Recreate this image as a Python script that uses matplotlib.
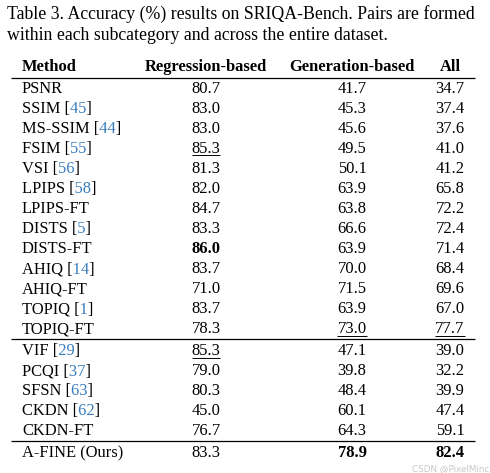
import matplotlib
matplotlib.use("Agg")
import matplotlib.pyplot as plt
from matplotlib.transforms import Bbox

# ---- data ----
caption = ["Table 3. Accuracy (%) results on SRIQA-Bench. Pairs are formed",
           "within each subcategory and across the entire dataset."]
headers = ["Method", "Regression-based", "Generation-based", "All"]
methods = ["PSNR", "SSIM", "MS-SSIM", "FSIM", "VSI", "LPIPS", "LPIPS-FT", "DISTS",
           "DISTS-FT", "AHIQ", "AHIQ-FT", "TOPIQ", "TOPIQ-FT", "VIF", "PCQI", "SFSN",
           "CKDN", "CKDN-FT", "A-FINE (Ours)"]
refs = ["", "45", "44", "55", "56", "58", "", "5", "", "14", "", "1", "",
        "29", "37", "63", "62", "", ""]
regression = [80.7, 83.0, 83.0, 85.3, 81.3, 82.0, 84.7, 83.3, 86.0, 83.7, 71.0, 83.7,
              78.3, 85.3, 79.0, 80.3, 45.0, 76.7, 83.3]
generation = [41.7, 45.3, 45.6, 49.5, 50.1, 63.9, 63.8, 66.6, 63.9, 70.0, 71.5, 63.9,
              73.0, 47.1, 39.8, 48.4, 60.1, 64.3, 78.9]
all_pairs = [34.7, 37.4, 37.6, 41.0, 41.2, 65.8, 72.2, 72.4, 71.4, 68.4, 69.6, 67.0,
             77.7, 39.0, 32.2, 39.9, 47.4, 59.1, 82.4]
group_breaks = [13, 18]  # rules drawn before these row indices
watermark = "CSDN @PixelMinc"

# ---- layout ----
W, H = 490, 473
DPI = 100
fig = plt.figure(figsize=(W / DPI, H / DPI), dpi=DPI)
ax = fig.add_axes([0, 0, 1, 1])
ax.set_xlim(0, W)
ax.set_ylim(H, 0)
ax.axis("off")

FONT = "Liberation Serif"
FS_CAP = 12.8
FS = 11.9
CITE = "#3a7ebf"

renderer = fig.canvas.get_renderer()

def width_px(s, **kw):
    t = ax.text(0, 0, s, fontsize=FS, family=FONT, **kw)
    w = t.get_window_extent(renderer).width
    t.remove()
    return w

# caption
ax.text(7, 19, caption[0], fontsize=FS_CAP, family=FONT, va="baseline", ha="left")
ax.text(7, 40.5, caption[1], fontsize=FS_CAP, family=FONT, va="baseline", ha="left")

col_x = [22, 206, 352, 450]
header_base = 71
ax.text(col_x[0], header_base, headers[0], fontsize=FS, family=FONT, weight="bold",
        va="baseline", ha="left")
for k in range(1, 4):
    ax.text(col_x[k], header_base, headers[k], fontsize=FS, family=FONT, weight="bold",
            va="baseline", ha="center")

rule_x0, rule_x1 = 11, 475
ax.plot([rule_x0, rule_x1], [78.5, 78.5], color="black", lw=0.9, solid_capstyle="butt")

def best_two(vals):
    d = sorted(set(vals), reverse=True)
    return d[0], d[1]

cols = [regression, generation, all_pairs]
ranks = [best_two(c) for c in cols]

def clip_box(x0, x1, y):
    # display coordinates (1 data unit = 1 pixel, y flipped)
    return Bbox([[x0, H - (y + 8)], [x1, H - (y - 20)]])

base = 93
y = base
for i, m in enumerate(methods):
    if i in group_breaks:
        ax.plot([rule_x0, rule_x1], [y - 14.5, y - 14.5], color="black", lw=0.9,
                solid_capstyle="butt")
        y += 2
    if refs[i]:
        full = f"{m} [{refs[i]}]"
        a = col_x[0] + width_px(f"{m} [") + 0.4
        b = col_x[0] + width_px(f"{m} [{refs[i]}") + 0.6
        for (c0, c1, colr) in [(0, a, "black"), (a, b, CITE), (b, 220, "black")]:
            t = ax.text(col_x[0], y, full, fontsize=FS, family=FONT, va="baseline",
                        ha="left", color=colr)
            t.set_clip_on(True)
            t.set_clip_box(clip_box(c0, c1, y))
    else:
        ax.text(col_x[0], y, m, fontsize=FS, family=FONT, va="baseline", ha="left")
    for k, c in enumerate(cols):
        v = c[i]
        best, second = ranks[k]
        wt = "bold" if v == best else "normal"
        s = f"{v:.1f}"
        ax.text(col_x[k + 1], y, s, fontsize=FS, family=FONT, weight=wt,
                va="baseline", ha="center")
        if v == second:
            w = width_px(s)
            ax.plot([col_x[k + 1] - w / 2, col_x[k + 1] + w / 2], [y + 2.5, y + 2.5],
                    color="black", lw=0.7, solid_capstyle="butt")
    y += 20

ax.text(489, 471, watermark, fontsize=6.3, family="DejaVu Sans", color="#c8c8c8",
        va="baseline", ha="right")

fig.savefig("out.png", dpi=DPI)
